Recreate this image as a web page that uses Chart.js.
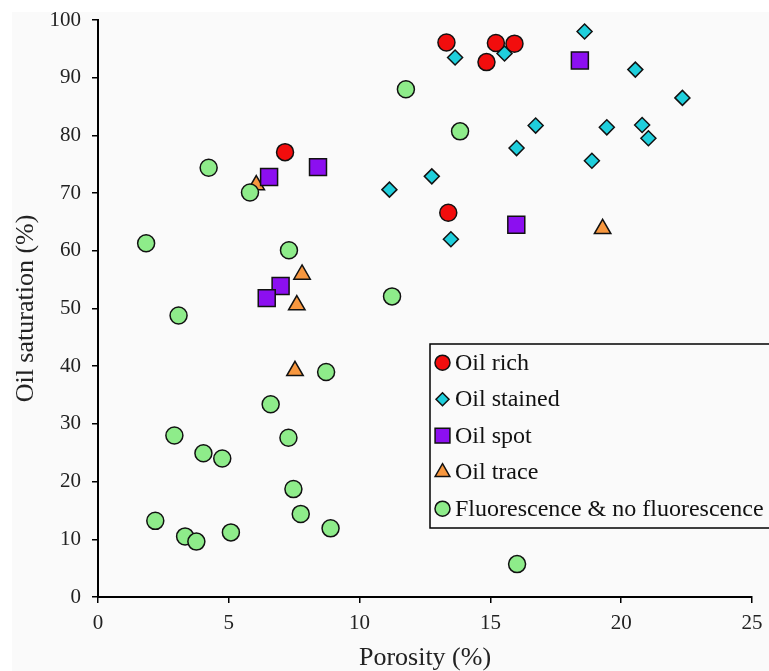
<!DOCTYPE html>
<html>
<head>
<meta charset="utf-8">
<script src="https://cdn.jsdelivr.net/npm/chart.js@4.4.1/dist/chart.umd.min.js"></script>
<style>
  html, body { margin: 0; padding: 0; background: #ffffff; }
  #wrap { width: 769px; height: 671px; position: relative; }
</style>
</head>
<body>
<div id="wrap"><canvas id="chart" width="769" height="671"></canvas></div>
<script>
// series values (porosity %, oil saturation %)
const seriesNames = ["Oil rich", "Oil stained", "Oil spot", "Oil trace", "Fluorescence & no fluorescence"];

const richPorosity   = [7.15, 13.32, 15.21, 15.92, 14.85, 13.39];
const richSaturation = [77.1, 96.1, 96.0, 95.9, 92.7, 66.6];

const stainedPorosity   = [13.65, 15.54, 18.60, 20.54, 22.34, 16.73, 19.45, 20.80, 21.04, 16.00, 18.88, 12.76, 11.14, 13.49];
const stainedSaturation = [93.5, 94.2, 98.0, 91.4, 86.5, 81.7, 81.4, 81.8, 79.5, 77.8, 75.6, 72.9, 70.6, 62.0];

const spotPorosity   = [18.42, 8.41, 6.54, 6.98, 6.45, 15.99];
const spotSaturation = [93.0, 74.5, 72.8, 53.9, 51.8, 64.5];

const tracePorosity   = [6.05, 7.80, 7.60, 7.53, 19.29];
const traceSaturation = [71.4, 55.9, 50.6, 39.2, 63.8];

const fluoPorosity   = [11.77, 4.23, 5.81, 1.84, 7.30, 11.24, 3.08, 13.84, 8.72, 6.60, 2.92, 7.28, 4.03, 4.75, 7.47, 7.75, 2.19, 8.89, 5.08, 3.33, 3.76, 16.02];
const fluoSaturation = [88.0, 74.4, 70.1, 61.3, 60.1, 52.1, 48.8, 80.7, 39.0, 33.4, 28.0, 27.6, 24.9, 24.0, 18.7, 14.4, 13.2, 11.9, 11.2, 10.5, 9.6, 5.7];

const xTicks = [0, 5, 10, 15, 20, 25];
const yTicks = [0, 10, 20, 30, 40, 50, 60, 70, 80, 90, 100];

const FONT = "'Liberation Serif', 'Times New Roman', serif";

function pts(xs, ys) {
  return xs.map((x, i) => ({ x: x, y: ys[i] }));
}

const styles = [
  { color: "#f20d0d", shape: "circle",   r: 8.5, lr: 7.5, order: 5 },
  { color: "#1fcfdc", shape: "rectRot",  r: 7.5, lr: 6.5, order: 4 },
  { color: "#8c0ff0", shape: "rect",     r: 12,  lr: 10.5, order: 2 },
  { color: "#f7973f", shape: "triangle", r: 9.5, lr: 8.5, order: 3 },
  { color: "#8eec8a", shape: "circle",   r: 8.5, lr: 7.5, order: 1 }
];

const allData = [
  pts(richPorosity, richSaturation),
  pts(stainedPorosity, stainedSaturation),
  pts(spotPorosity, spotSaturation),
  pts(tracePorosity, traceSaturation),
  pts(fluoPorosity, fluoSaturation)
];

// fond gris clair de la figure
const backgroundPlugin = {
  id: "bg",
  beforeDraw(chart) {
    const c = chart.ctx;
    c.save();
    c.fillStyle = "#fafafa";
    c.fillRect(12, 12, chart.width - 12, chart.height - 12);
    c.restore();
  }
};

// legend box drawn inside the plot, as in the original
const boxLegend = {
  id: "boxLegend",
  afterDraw(chart) {
    const c = chart.ctx;
    const left = 430, top = 344, bottom = 528;
    c.save();
    c.fillStyle = "#fafafa";
    c.fillRect(left, top, chart.width - left + 5, bottom - top);
    c.strokeStyle = "#000";
    c.lineWidth = 1.5;
    c.strokeRect(left, top, chart.width - left + 5, bottom - top);
    const rowY = [362.7, 399.2, 435.7, 472.2, 508.7];
    c.font = "24px " + FONT;
    c.textBaseline = "middle";
    c.textAlign = "left";
    seriesNames.forEach((name, i) => {
      const s = styles[i];
      c.fillStyle = s.color;
      c.strokeStyle = "#111";
      c.lineWidth = 1.5;
      if (Chart.helpers && Chart.helpers.drawPoint) {
        Chart.helpers.drawPoint(c, { pointStyle: s.shape, radius: s.lr, borderWidth: 1.5, rotation: 0 }, 442.5, rowY[i]);
      } else {
        c.beginPath(); c.arc(442.5, rowY[i], s.lr, 0, Math.PI * 2); c.fill(); c.stroke();
      }
      c.fillStyle = "#111";
      c.fillText(name, 455, rowY[i] + 1);
    });
    c.restore();
  }
};

const ctx = document.getElementById("chart").getContext("2d");

new Chart(ctx, {
  type: "scatter",
  data: {
    datasets: allData.map((d, i) => ({
      label: seriesNames[i],
      data: d,
      order: styles[i].order,
      pointStyle: styles[i].shape,
      pointRadius: styles[i].r,
      pointHoverRadius: styles[i].r,
      backgroundColor: styles[i].color,
      borderColor: "#111",
      pointBorderWidth: 1.5,
      borderWidth: 1.5
    }))
  },
  options: {
    responsive: false,
    animation: false,
    layout: { padding: { top: 20, right: 17, left: 0, bottom: 0 } },
    plugins: {
      legend: { display: false },
      tooltip: { enabled: false }
    },
    scales: {
      x: {
        type: "linear",
        min: 0, max: 25,
        afterBuildTicks: (scale) => { scale.ticks = xTicks.map(v => ({ value: v })); },
        afterFit: (scale) => { scale.height = 74; scale.paddingLeft = 0; scale.paddingRight = 0; },
        grid: { display: true, drawOnChartArea: false, drawTicks: true, tickLength: 6, color: "#000", lineWidth: 1.5 },
        border: { display: true, color: "#000", width: 2 },
        ticks: { color: "#222", font: { family: FONT, size: 21 }, padding: 8, maxRotation: 0 },
        title: { display: true, text: "Porosity (%)", color: "#222", font: { family: FONT, size: 26, lineHeight: 1 }, padding: { top: 0, bottom: 0 } }
      },
      y: {
        type: "linear",
        min: 0, max: 100,
        afterBuildTicks: (scale) => { scale.ticks = yTicks.map(v => ({ value: v })); },
        afterFit: (scale) => { scale.width = 98; scale.paddingTop = 0; scale.paddingBottom = 0; },
        grid: { display: true, drawOnChartArea: false, drawTicks: true, tickLength: 6, color: "#000", lineWidth: 1.5 },
        border: { display: true, color: "#000", width: 2 },
        ticks: { color: "#222", font: { family: FONT, size: 21 }, padding: 11 },
        title: { display: true, text: "Oil saturation (%)", color: "#222", font: { family: FONT, size: 26, lineHeight: 1 }, padding: { top: 13, bottom: 0 } }
      }
    }
  },
  plugins: [backgroundPlugin, boxLegend]
});
</script>
</body>
</html>
